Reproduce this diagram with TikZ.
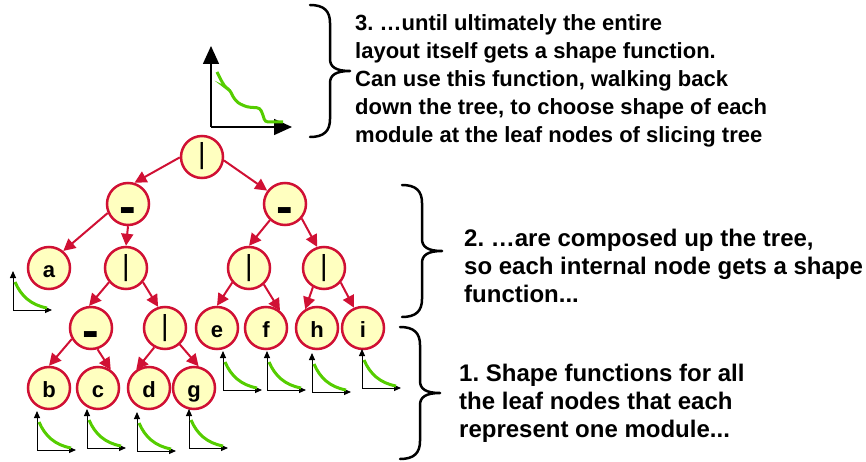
\documentclass[tikz,border=0pt]{standalone}
\usepackage{fontspec}
\setmainfont{Liberation Sans}
\usepackage{xcolor}
\usepackage{tikz}
\usetikzlibrary{arrows.meta}
\definecolor{treered}{RGB}{208,16,52}
\definecolor{nodefill}{RGB}{255,255,192}
\definecolor{curvegreen}{RGB}{85,205,0}
\frenchspacing
% small shape function: origin of the axes at (#1,#2)
\newcommand{\sfplot}[2]{%
  \draw[axisarr] (#1,#2) -- ++(0,-39);
  \draw[axisarr] (#1,#2) -- ++(39,0);
  \draw[sfcurve, shift={(#1,#2)}] (2,-28) .. controls (8,-14) and (18,-5) .. (34,-2);}
% curly brace, top end at (#1,#2)
\newcommand{\curly}[2]{%
  \draw[bracket, shift={(#1,#2)}] (0,0) .. controls (14,0) and (20,6) .. (20,18) -- (20,54)
    .. controls (20,62) and (26,66) .. (40,66) .. controls (26,66) and (20,70) .. (20,78)
    -- (20,114) .. controls (20,126) and (14,132) .. (0,132);}

\begin{document}
\begin{tikzpicture}[
      x=1pt, y=-1pt,
      opnode/.style={circle, draw=treered, line width=2.5pt, fill=nodefill, minimum size=42pt, inner sep=0pt,
        font=\fontsize{22}{22}\selectfont\bfseries, text height=20pt, text depth=2pt},
      vertnode/.style={opnode, font=\fontsize{29}{29}\selectfont, text height=16pt, text depth=2pt},
      cutnode/.style={opnode, font=\fontsize{50}{50}\selectfont\bfseries, text height=38pt, text depth=0pt},
      arr/.style={-{Triangle[length=12pt,width=12pt]}, line width=2pt, draw=treered},
      axisarr/.style={-{Triangle[length=7pt,width=6pt]}, line width=1pt, draw=black},
      bigaxis/.style={-{Triangle[length=18pt,width=16pt]}, line width=1.5pt, draw=black},
      sfcurve/.style={line width=3pt, draw=curvegreen},
      bracket/.style={line width=2.5pt, line cap=round, line join=round},
      note/.style={anchor=north west, inner sep=0pt, align=left, font=\fontsize{24}{28}\selectfont\bfseries}
    ]
      \useasboundingbox (0,0) rectangle (866,462);
      % slicing tree
      \node[vertnode] (root) at (202,157) {|};
      \node[cutnode] (cutL) at (128,204) {-};
      \node[cutnode] (cutR) at (285,204) {-};
      \node[opnode] (a) at (49,268) {a};
      \node[vertnode] (vertL) at (126,268) {|};
      \node[vertnode] (vertRL) at (249,268) {|};
      \node[vertnode] (vertRR) at (324,268) {|};
      \node[cutnode] (cutLL) at (91,328) {-};
      \node[vertnode] (vertLL) at (165,328) {|};
      \node[opnode] (e) at (217,328) {e};
      \node[opnode] (f) at (266,328) {f};
      \node[opnode] (h) at (317,328) {h};
      \node[opnode] (i) at (363,328) {i};
      \node[opnode] (b) at (49,388) {b};
      \node[opnode] (c) at (98,388) {c};
      \node[opnode] (d) at (149,388) {d};
      \node[opnode] (g) at (194,388) {g};
      \draw[arr] (root.181) -- (cutL.73);
      \draw[arr] (root.351) -- (cutR.143);
      \draw[arr] (cutL.204) -- (a.50);
      \draw[arr] (cutL.270) -- (vertL.90);
      \draw[arr] (vertL.220) -- (cutLL.95);
      \draw[arr] (vertL.320) -- (vertLL.108);
      \draw[arr] (cutLL.210) -- (b.90);
      \draw[arr] (cutLL.287) -- (c.55);
      \draw[arr] (vertLL.241) -- (d.125);
      \draw[arr] (vertLL.312) -- (g.78);
      \draw[arr] (cutR.227) -- (vertRL.90);
      \draw[arr] (cutR.319) -- (vertRR.108);
      \draw[arr] (vertRL.221) -- (e.90);
      \draw[arr] (vertRL.312) -- (f.51);
      \draw[arr] (vertRR.240) -- (h.122);
      \draw[arr] (vertRR.319) -- (i.114);
      % shape functions of the leaves
      \sfplot{13}{310}
      \sfplot{37}{450}
      \sfplot{87}{448}
      \sfplot{137}{451}
      \sfplot{189}{448}
      \sfplot{223}{390}
      \sfplot{267}{390}
      \sfplot{312}{392}
      \sfplot{362}{388}
      % shape function of the whole layout
      \draw[bigaxis] (211,127) -- (211,46);
      \draw[bigaxis] (211,127) -- (292,127);
      \draw[sfcurve, rounded corners=3pt] (217,72) -- (222,82) -- (226,88) -- (230,90) -- (233,97) -- (238,103)
        -- (247,107) -- (260,108) -- (263,115) -- (265,122) -- (283,122);
      % braces and notes
      \curly{310}{5}
      \curly{402}{185}
      \curly{400}{327}
      \node[note, font=\fontsize{22}{28}\selectfont\bfseries] (step3) at (355,14) {3. …until ultimately the entire\\layout itself gets a shape function.\\Can use this function, walking back\\down the tree, to choose shape of each\\module at the leaf nodes of slicing tree};
      \node[note] (step2) at (464,229) {2. …are composed up the tree,\\so each internal node gets a shape\\function...};
      \node[note] (step1) at (459,364) {1. Shape functions for all\\the leaf nodes that each\\represent one module...};
    \end{tikzpicture}
\end{document}
